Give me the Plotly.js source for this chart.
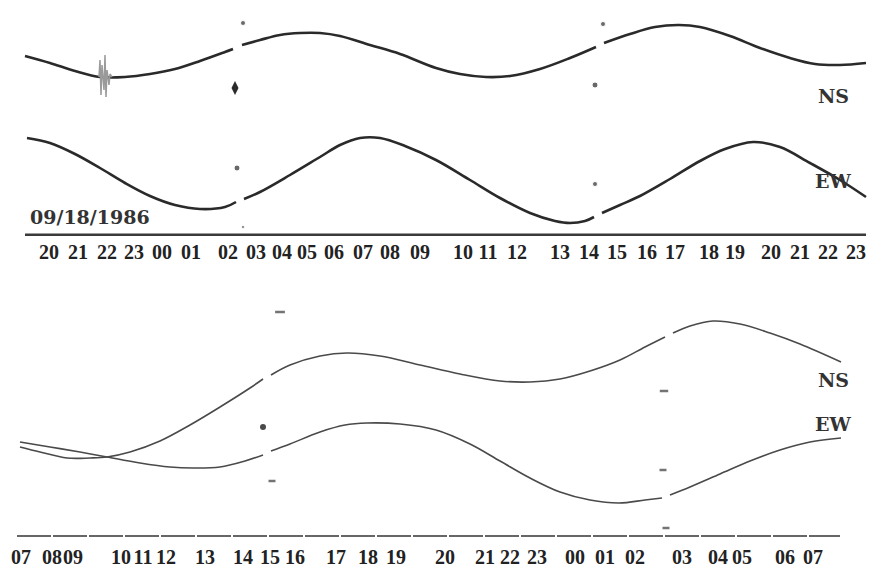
<!DOCTYPE html>
<html>
<head>
<meta charset="utf-8">
<script src="https://cdn.plot.ly/plotly-3.0.1.min.js"></script>
<style>html,body{margin:0;padding:0;background:#fff;}#chart{width:872px;height:570px;}</style>
</head>
<body>
<div id="chart"></div>
<script>
// ---- Upper record (09/18/1986) : position along record vs. deflection ----
var topNSx = [25,50,75,100,125,150,175,200,225,233,237,242,260,280,300,320,340,370,400,436,460,486,510,540,570,596,600,604,630,655,679,700,730,760,790,815,840,866];
var topNSy = [56,63,71,77,77,74,69,61,52,49,null,45,40,35,33,33,36,45,54,68,74,77,76,69,58,47,null,43,34,27,25,27,36,48,58,64,65,63];
var topEWx = [27,50,75,100,125,150,175,200,225,236,240,244,260,290,320,340,360,380,405,436,470,500,530,555,570,585,594,598,602,620,640,670,700,725,753,780,810,840,866];
var topEWy = [138,143,154,168,183,196,205,209,207,202,null,199,192,175,157,145,138,138,146,160,180,198,213,221,223,221,217,null,213,205,196,179,161,149,142,147,163,180,197];
var burstX = [99,100,101,102,104,105,106,107,109,110,112];
var burstY = [77,60,95,65,90,55,97,70,85,74,77];
var topDotX = [243,237,603,595,595,243];
var topDotY = [23,168,24,85,184,227];
var topBlobX = [235];
var topBlobY = [88];
var topTickPos = [49,78,107,134,162,191,228,256,282,307,334,363,390,420,463,488,517,560,589,617,647,675,709,735,771,800,828,856];
var topTickText = ["20","21","22","23","00","01","02","03","04","05","06","07","08","09","10","11","12","13","14","15","16","17","18","19","20","21","22","23"];

// ---- Lower record ----
var botNSx = [20,40,67,90,107,130,160,190,220,250,263,267,271,290,320,347,380,420,460,500,530,560,590,620,645,665,669,673,690,713,740,770,800,841];
var botNSy = [447,452,458,458,457,452,441,425,407,388,379,null,375,365,356,353,356,365,374,381,382,379,371,360,347,337,null,333,326,321,324,333,344,362];
var botEWx = [20,50,80,107,140,170,193,220,245,263,267,271,290,320,345,367,400,436,470,500,530,560,590,619,645,662,666,670,690,720,750,780,810,841];
var botEWy = [442,447,452,457,463,467,468,467,461,455,null,451,444,432,425,423,424,430,444,461,478,492,500,503,500,498,null,495,487,474,461,450,442,438];
var botDotX = [263];
var botDotY = [427];
var botDashX = [280,272,664,663,666];
var botDashY = [312,481,391,470,528];
var botTickPos = [21,52,73,121,143,166,205,243,270,295,336,368,396,445,485,510,537,575,605,635,682,718,742,785,813];
var botTickText = ["07","08","09","10","11","12","13","14","15","16","17","18","19","20","21","22","23","00","01","02","03","04","05","06","07"];

var dateLabel = "09/18/1986";
var compNS = "NS", compEW = "EW";

var ink = "#2a2a2a";
var ink2 = "#4a4a4a";
var serif = "Liberation Serif, Times New Roman, serif";
var serif2 = "DejaVu Serif, serif";

var traces = [
  {x: topNSx, y: topNSy, xaxis: "x", yaxis: "y", mode: "lines", line: {color: ink, width: 2.6, shape: "spline", smoothing: 1}, hoverinfo: "skip"},
  {x: topEWx, y: topEWy, xaxis: "x", yaxis: "y", mode: "lines", line: {color: ink, width: 2.6, shape: "spline", smoothing: 1}, hoverinfo: "skip"},
  {x: burstX, y: burstY, xaxis: "x", yaxis: "y", mode: "lines", line: {color: "#9a9a9a", width: 1.5}, hoverinfo: "skip"},
  {x: topDotX, y: topDotY, xaxis: "x", yaxis: "y", mode: "markers", marker: {color: ink, size: [5,6,5,6,5,3], symbol: "circle"}, hoverinfo: "skip"},
  {x: topBlobX, y: topBlobY, xaxis: "x", yaxis: "y", mode: "markers", marker: {color: ink, size: 10, symbol: "diamond-tall"}, hoverinfo: "skip"},
  {x: botNSx, y: botNSy, xaxis: "x2", yaxis: "y2", mode: "lines", line: {color: ink2, width: 1.6, shape: "spline", smoothing: 1}, hoverinfo: "skip"},
  {x: botEWx, y: botEWy, xaxis: "x2", yaxis: "y2", mode: "lines", line: {color: ink2, width: 1.6, shape: "spline", smoothing: 1}, hoverinfo: "skip"},
  {x: botDotX, y: botDotY, xaxis: "x2", yaxis: "y2", mode: "markers", marker: {color: ink2, size: 6, symbol: "circle"}, hoverinfo: "skip"},
  {x: botDashX, y: botDashY, xaxis: "x2", yaxis: "y2", mode: "markers", marker: {color: ink2, size: [7,5,6,5,5], symbol: "line-ew", line: {color: "#3a3a3a", width: 2.5}}, hoverinfo: "skip"}
];

var layout = {
  width: 872, height: 570,
  margin: {l: 0, r: 0, t: 0, b: 0, pad: 0},
  paper_bgcolor: "#ffffff", plot_bgcolor: "#ffffff",
  showlegend: false,
  xaxis: {domain: [0, 1], range: [0, 872], anchor: "y", showgrid: false, zeroline: false, showline: false,
          ticks: "", tickmode: "array", tickvals: topTickPos, ticktext: topTickText, tickangle: 0,
          tickfont: {family: serif, size: 20, color: "#222", weight: "bold"}, ticklabelstandoff: 2},
  yaxis: {domain: [(570 - 236) / 570, 1], range: [236, 0], visible: false, showgrid: false, zeroline: false},
  xaxis2: {domain: [0, 1], range: [0, 872], anchor: "y2", showgrid: false, zeroline: false, showline: false,
          ticks: "", tickmode: "array", tickvals: botTickPos, ticktext: botTickText, tickangle: 0,
          tickfont: {family: serif, size: 20, color: "#222", weight: "bold"}, ticklabelstandoff: 6},
  yaxis2: {domain: [(570 - 537) / 570, 0.5], range: [537, 285], visible: false, showgrid: false, zeroline: false},
  shapes: [
    {type: "line", xref: "x", yref: "y", x0: 25, x1: 866, y0: 235, y1: 235, line: {color: "#3a3a3a", width: 3}},
    {type: "line", xref: "x2", yref: "y2", x0: 17, x1: 840, y0: 536, y1: 536, line: {color: "#666", width: 2, dash: "34px,2px"}}
  ],
  annotations: [
    {xref: "x", yref: "y", x: 28, y: 217, text: dateLabel, showarrow: false, xanchor: "left", yanchor: "middle",
     font: {family: serif2, size: 19, color: "#333", weight: "bold"}},
    {xref: "x", yref: "y", x: 833, y: 96, text: compNS, showarrow: false, xanchor: "center", yanchor: "middle",
     font: {family: serif2, size: 19, color: "#333", weight: "bold"}},
    {xref: "x", yref: "y", x: 833, y: 181, text: compEW, showarrow: false, xanchor: "center", yanchor: "middle",
     font: {family: serif2, size: 19, color: "#333", weight: "bold"}},
    {xref: "x2", yref: "y2", x: 833, y: 380, text: compNS, showarrow: false, xanchor: "center", yanchor: "middle",
     font: {family: serif2, size: 19, color: "#333", weight: "bold"}},
    {xref: "x2", yref: "y2", x: 833, y: 424, text: compEW, showarrow: false, xanchor: "center", yanchor: "middle",
     font: {family: serif2, size: 19, color: "#333", weight: "bold"}}
  ]
};

Plotly.newPlot("chart", traces, layout, {staticPlot: true, displayModeBar: false});
</script>
</body>
</html>
